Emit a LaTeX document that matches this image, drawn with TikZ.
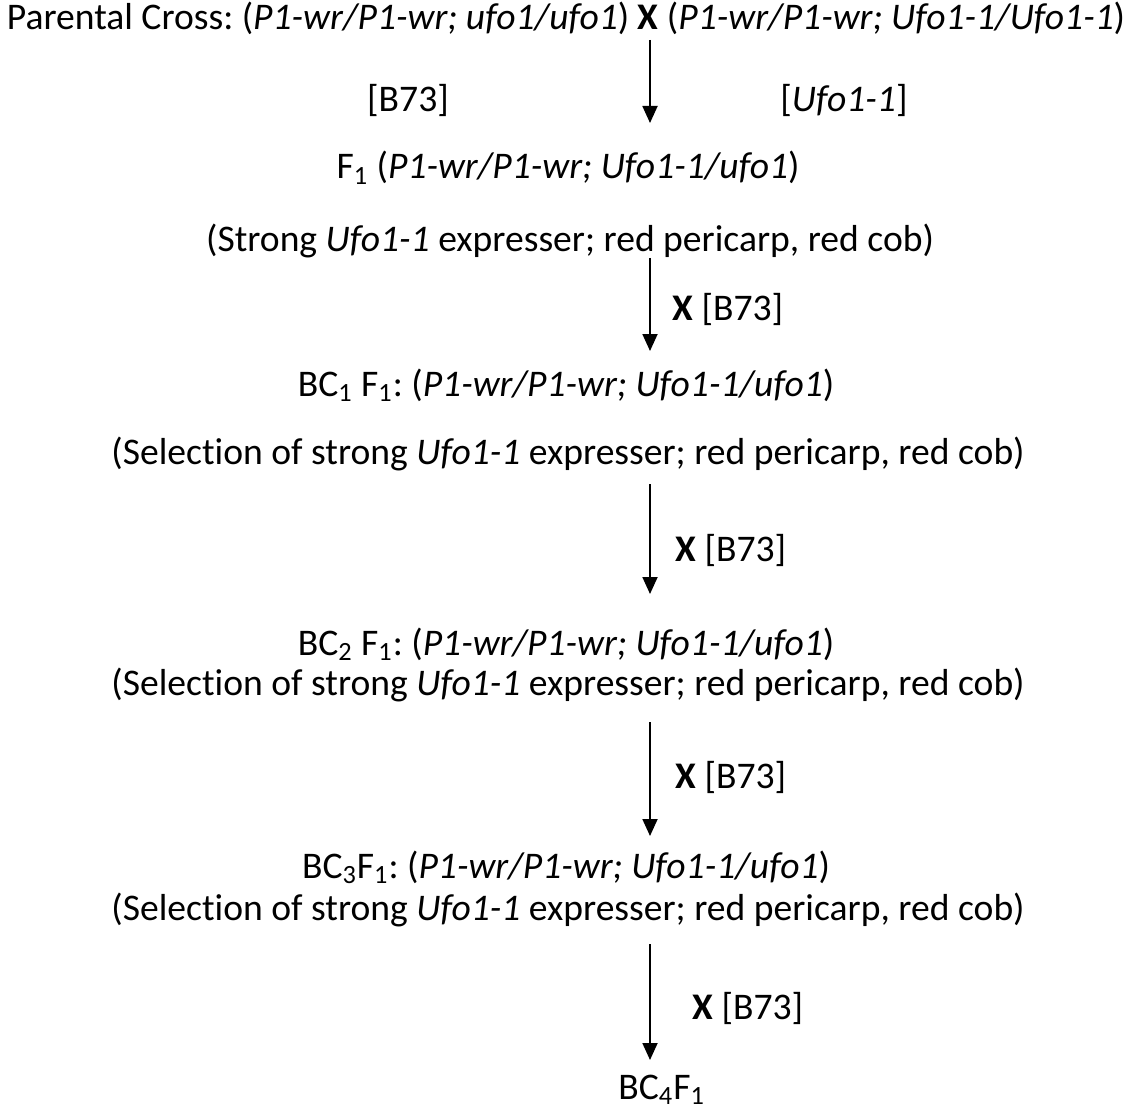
\documentclass[tikz,border=0pt]{standalone}
\usepackage{fontspec}
\setmainfont{Carlito}[Ligatures=NoCommon]
\usetikzlibrary{arrows.meta}

\begin{document}
\frenchspacing
\begin{tikzpicture}[x=0.5pt,y=-0.5pt,
    gen/.style={font=\fontsize{18.8}{22}\selectfont, inner sep=0pt, anchor=base},
    cross/.style={-{Triangle[length=8.5pt,width=7.5pt]}, line width=0.9pt}]
        \useasboundingbox (0,0) rectangle (1133,1112);

        % generations (positions are baselines)
        \node[gen] (parent) at (566,30) {Parental Cross: (\textit{P1-wr/P1-wr; ufo1/ufo1}) \textbf{X} (\textit{P1-wr/P1-wr; Ufo1-1/Ufo1-1})};
        \node[gen] (b73) at (408,112) {[B73]};
        \node[gen] (ufo) at (844,112) {[\textit{Ufo1-1}]};
        \node[gen] (f1) at (568,179) {F\textsubscript{1} (\textit{P1-wr/P1-wr; Ufo1-1/ufo1})};
        \node[gen] (f1note) at (570,252) {(Strong \textit{Ufo1-1} expresser; red pericarp, red cob)};
        \node[gen] (bc1) at (566,396) {BC\textsubscript{1} F\textsubscript{1}: (\textit{P1-wr/P1-wr; Ufo1-1/ufo1})};
        \node[gen] (bc1note) at (568,464) {(Selection of strong \textit{Ufo1-1} expresser; red pericarp, red cob)};
        \node[gen] (bc2) at (566,655) {BC\textsubscript{2} F\textsubscript{1}: (\textit{P1-wr/P1-wr; Ufo1-1/ufo1})};
        \node[gen] (bc2note) at (568,695) {(Selection of strong \textit{Ufo1-1} expresser; red pericarp, red cob)};
        \node[gen] (bc3) at (566,878) {BC\textsubscript{3}F\textsubscript{1}: (\textit{P1-wr/P1-wr; Ufo1-1/ufo1})};
        \node[gen] (bc3note) at (568,920) {(Selection of strong \textit{Ufo1-1} expresser; red pericarp, red cob)};
        \node[gen, anchor=base west] (bc4) at (618,1099) {BC\textsubscript{4}F\textsubscript{1}};

        % backcross arrows
        \coordinate (a1s) at (650,40);  \coordinate (a1e) at (650,123);
        \coordinate (a2s) at (650,258); \coordinate (a2e) at (650,351);
        \coordinate (a3s) at (650,484); \coordinate (a3e) at (650,594);
        \coordinate (a4s) at (650,722); \coordinate (a4e) at (650,836);
        \coordinate (a5s) at (650,944); \coordinate (a5e) at (650,1060);
        \draw[cross] (a1s) -- (a1e);
        \draw[cross] (a2s) -- (a2e);
        \draw[cross] (a3s) -- (a3e);
        \draw[cross] (a4s) -- (a4e);
        \draw[cross] (a5s) -- (a5e);

        \node[gen, anchor=base west] (x2) at (672,321) {\textbf{X} [B73]};
        \node[gen, anchor=base west] (x3) at (675,561) {\textbf{X} [B73]};
        \node[gen, anchor=base west] (x4) at (675,788) {\textbf{X} [B73]};
        \node[gen, anchor=base west] (x5) at (692,1019) {\textbf{X} [B73]};
    \end{tikzpicture}
\end{document}
